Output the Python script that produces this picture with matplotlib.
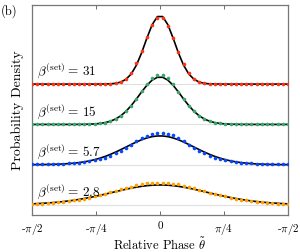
import numpy as np
import matplotlib
matplotlib.use('Agg')
import matplotlib.pyplot as plt

plt.rcParams['font.family'] = 'serif'
plt.rcParams['font.serif'] = ['cmr10', 'DejaVu Serif']
plt.rcParams['mathtext.fontset'] = 'cm'
plt.rcParams['axes.unicode_minus'] = False

# relative phase grid (50 points on [-pi/2, pi/2])
theta = np.linspace(-np.pi / 2, np.pi / 2, 50)

labels = ['2.8', '5.7', '15', '31']
offsets = [0.0, 1.3, 2.6, 3.9]
colors = ['#ffa000', '#0a46ff', '#3aa86c', '#ff3214']

# measured densities (dots)
orange_pts = [0.034, 0.041, 0.05, 0.062, 0.074, 0.09, 0.108, 0.128, 0.152, 0.178, 0.208, 0.242, 0.28,
              0.32, 0.362, 0.41, 0.455, 0.505, 0.55, 0.595, 0.635, 0.67, 0.70, 0.715, 0.72,
              0.725, 0.715, 0.695, 0.665, 0.630, 0.590, 0.545, 0.500, 0.452, 0.405, 0.360, 0.318,
              0.278, 0.240, 0.206, 0.176, 0.150, 0.126, 0.106, 0.088, 0.072, 0.060, 0.049, 0.040, 0.033]
blue_pts = [0.012, 0.013, 0.015, 0.018, 0.022, 0.027, 0.034, 0.042, 0.053, 0.067, 0.086, 0.11, 0.14,
            0.18, 0.23, 0.29, 0.37, 0.45, 0.54, 0.65, 0.75, 0.86, 0.94, 1.00, 1.03,
            1.02, 1.00, 0.95, 0.85, 0.76, 0.65, 0.55, 0.45, 0.365, 0.29, 0.23, 0.18,
            0.14, 0.108, 0.085, 0.066, 0.052, 0.041, 0.033, 0.027, 0.022, 0.018, 0.015, 0.013, 0.012]
green_pts = [0, 0, 0, 0, 0, 0, 0, 0.001, 0.002, 0.003, 0.005, 0.01, 0.018,
             0.034, 0.06, 0.105, 0.175, 0.28, 0.42, 0.61, 0.83, 1.07, 1.31, 1.50, 1.60,
             1.59, 1.49, 1.30, 1.06, 0.82, 0.60, 0.42, 0.28, 0.17, 0.10, 0.06, 0.033,
             0.018, 0.01, 0.005, 0.003, 0.002, 0.001, 0, 0, 0, 0, 0, 0, 0]
red_pts = [0, 0, 0, 0, 0, 0, 0, 0, 0, 0, 0, 0, 0,
           0.001, 0.004, 0.011, 0.03, 0.078, 0.175, 0.37, 0.67, 1.07, 1.53, 1.91, 2.13,
           2.12, 1.88, 1.50, 1.04, 0.65, 0.355, 0.168, 0.072, 0.03, 0.01, 0.004, 0.001,
           0, 0, 0, 0, 0, 0, 0, 0, 0, 0, 0, 0, 0]

# theory curves (black)
orange_fit = [0.039, 0.047, 0.056, 0.067, 0.080, 0.095, 0.113, 0.133, 0.156, 0.182, 0.211, 0.242, 0.277,
              0.314, 0.353, 0.392, 0.433, 0.473, 0.511, 0.547, 0.578, 0.605, 0.626, 0.641, 0.648,
              0.648, 0.641, 0.626, 0.605, 0.578, 0.547, 0.511, 0.473, 0.433, 0.392, 0.353, 0.314,
              0.277, 0.242, 0.211, 0.182, 0.156, 0.133, 0.113, 0.095, 0.080, 0.067, 0.056, 0.047, 0.039]
blue_fit = [0.003, 0.005, 0.006, 0.009, 0.013, 0.019, 0.026, 0.037, 0.051, 0.070, 0.094, 0.125, 0.164,
            0.212, 0.268, 0.334, 0.408, 0.488, 0.571, 0.655, 0.735, 0.807, 0.865, 0.907, 0.928,
            0.928, 0.907, 0.865, 0.807, 0.735, 0.655, 0.571, 0.488, 0.408, 0.334, 0.268, 0.212,
            0.164, 0.125, 0.094, 0.070, 0.051, 0.037, 0.026, 0.019, 0.013, 0.009, 0.006, 0.005, 0.003]
green_fit = [0, 0, 0, 0, 0, 0, 0, 0, 0.001, 0.002, 0.004, 0.008, 0.016,
             0.031, 0.058, 0.103, 0.174, 0.279, 0.424, 0.609, 0.824, 1.052, 1.264, 1.429, 1.520,
             1.520, 1.429, 1.264, 1.052, 0.824, 0.609, 0.424, 0.279, 0.174, 0.103, 0.058, 0.031,
             0.016, 0.008, 0.004, 0.002, 0.001, 0, 0, 0, 0, 0, 0, 0, 0]
red_fit = [0, 0, 0, 0, 0, 0, 0, 0, 0, 0, 0, 0, 0,
           0.001, 0.003, 0.008, 0.025, 0.066, 0.156, 0.328, 0.614, 1.017, 1.487, 1.917, 2.177,
           2.177, 1.917, 1.487, 1.017, 0.614, 0.328, 0.156, 0.066, 0.025, 0.008, 0.003, 0.001,
           0, 0, 0, 0, 0, 0, 0, 0, 0, 0, 0, 0, 0]

pts = [orange_pts, blue_pts, green_pts, red_pts]
fits = [orange_fit, blue_fit, green_fit, red_fit]

fig = plt.figure(figsize=(3.0, 2.52), dpi=100)
ax = fig.add_axes([32 / 300, 37 / 252, 256 / 300, 210 / 252])

for off, lab, col, p, f in zip(offsets, labels, colors, pts, fits):
    ax.axhline(off, color='#e0e0e0', lw=0.8, zorder=1)
    ax.plot(theta, np.array(f) + off, color='black', lw=1.2, zorder=2)
    ax.plot(theta, np.array(p) + off, 'o', color=col, ms=2.6, mec='none', zorder=3)
    ax.text(-1.51, off + 0.09, r'$\beta^{(\mathrm{set})} =\, %s$' % lab, fontsize=9.5,
            ha='left', va='bottom', zorder=4)

ax.set_xlim(-np.pi / 2, np.pi / 2)
ax.set_ylim(-0.32, 6.45)
ax.set_xticks([-np.pi / 2, -np.pi / 4, 0, np.pi / 4, np.pi / 2])
ax.set_xticklabels(['-$\\pi$/2', '-$\\pi$/4', '0', '$\\pi$/4', '-$\\pi$/2'], fontsize=8)
ax.set_yticks([])
ax.tick_params(axis='x', direction='in', top=True, length=3, width=0.6, pad=5, color='#555555')
for s in ax.spines.values():
    s.set_color('#777777')
    s.set_linewidth(0.9)

ax.set_xlabel(r'Relative Phase $\tilde{\theta}$', fontsize=9, labelpad=0)
ax.set_ylabel('Probability Density', fontsize=10, labelpad=6)
fig.text(0.003, 0.985, '(b)', fontsize=9, ha='left', va='top')

fig.savefig('out.png', dpi=100)
